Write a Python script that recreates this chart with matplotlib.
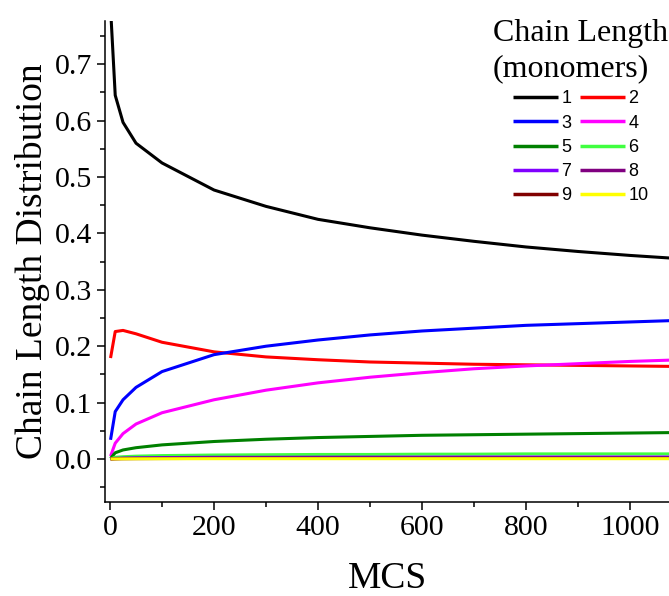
import matplotlib
matplotlib.use("Agg")
import matplotlib.pyplot as plt
from matplotlib.ticker import MultipleLocator

# Monte Carlo steps and fraction of chains of each length
mcs = [1, 10, 25, 50, 100, 200, 300, 400, 500, 600, 700, 800, 900, 1000, 1100]
len1 = [0.800, 0.645, 0.597, 0.560, 0.525, 0.477, 0.448, 0.425, 0.410, 0.397, 0.386, 0.376, 0.368, 0.361, 0.355]
len2 = [0.179, 0.226, 0.228, 0.222, 0.207, 0.190, 0.181, 0.176, 0.172, 0.170, 0.168, 0.167, 0.166, 0.165, 0.164]
len3 = [0.034, 0.084, 0.105, 0.127, 0.155, 0.185, 0.200, 0.211, 0.220, 0.227, 0.232, 0.237, 0.240, 0.243, 0.246]
len4 = [0.005, 0.028, 0.045, 0.062, 0.082, 0.105, 0.122, 0.135, 0.145, 0.153, 0.160, 0.165, 0.169, 0.173, 0.176]
len5 = [0.001, 0.011, 0.016, 0.020, 0.025, 0.031, 0.035, 0.038, 0.040, 0.042, 0.043, 0.044, 0.045, 0.046, 0.047]
len6 = [0.000, 0.003, 0.004, 0.005, 0.006, 0.007, 0.0075, 0.008, 0.008, 0.0085, 0.0085, 0.009, 0.009, 0.009, 0.009]
len7 = [0.000, 0.001, 0.0015, 0.002, 0.0025, 0.003, 0.003, 0.0032, 0.0033, 0.0034, 0.0035, 0.0035, 0.0035, 0.0035, 0.0035]
len8 = [0.000, 0.0005, 0.001, 0.0012, 0.0015, 0.0018, 0.002, 0.002, 0.002, 0.002, 0.002, 0.002, 0.002, 0.002, 0.002]
len9 = [0.000, 0.0002, 0.0004, 0.0006, 0.0008, 0.001, 0.001, 0.001, 0.001, 0.001, 0.001, 0.001, 0.001, 0.001, 0.001]
len10 = [0.000, 0.0001, 0.0002, 0.0003, 0.0004, 0.0005, 0.0005, 0.0005, 0.0005, 0.0005, 0.0005, 0.0005, 0.0005, 0.0005, 0.0005]

series = [len1, len2, len3, len4, len5, len6, len7, len8, len9, len10]
labels = [str(i) for i in range(1, 11)]
colors = ["#000000", "#FF0000", "#0000FF", "#FF00FF", "#008000",
          "#40FF40", "#8000FF", "#800080", "#800000", "#FFFF00"]

serif = "Liberation Serif"
sans = "Liberation Sans"

fig = plt.figure(figsize=(6.69, 5.96), dpi=100)
ax = fig.add_axes([0.157, 0.158, 0.843, 0.807])

lines = []
for y, lab, c in zip(series, labels, colors):
    ln, = ax.plot(mcs, y, color=c, lw=2.2, label=lab, solid_capstyle="butt")
    lines.append(ln)

ax.set_xlim(-9.6, 1075)
ax.set_ylim(-0.076, 0.777)
ax.xaxis.set_major_locator(MultipleLocator(200))
ax.xaxis.set_minor_locator(MultipleLocator(100))
ax.yaxis.set_major_locator(MultipleLocator(0.1))
ax.yaxis.set_minor_locator(MultipleLocator(0.05))
ax.yaxis.set_major_formatter(plt.FuncFormatter(lambda v, p: f"{v:.1f}"))

for s in ["top", "right"]:
    ax.spines[s].set_visible(False)
for s in ["left", "bottom"]:
    ax.spines[s].set_linewidth(1.1)

ax.tick_params(which="major", direction="out", length=6, width=1.1, labelsize=21.5)
ax.tick_params(which="minor", direction="out", length=3.5, width=1.1)
for t in ax.get_xticklabels() + ax.get_yticklabels():
    t.set_fontfamily(serif)

ax.set_xlabel("MCS", fontfamily=serif, fontsize=27, labelpad=15)
ax.set_ylabel("Chain Length Distribution", fontfamily=serif, fontsize=27, labelpad=3)

# row-wise ordering for two-column legend
order = [0, 2, 4, 6, 8, 1, 3, 5, 7, 9]
leg = ax.legend([lines[i] for i in order], [labels[i] for i in order],
                ncol=2, loc="upper right", bbox_to_anchor=(1.015, 0.987),
                bbox_transform=fig.transFigure, frameon=False,
                title="Chain Length\n(monomers)",
                prop={"family": sans, "size": 13},
                title_fontproperties={"family": serif, "size": 23},
                handlelength=2.5, handletextpad=0.2, columnspacing=0.45,
                labelspacing=0.4, borderaxespad=0.2)
leg._legend_box.align = "center"
leg.get_title().set_linespacing(1.3)
for h in leg.get_lines():
    h.set_linewidth(2.5)

fig.savefig("out.png", dpi=100)
